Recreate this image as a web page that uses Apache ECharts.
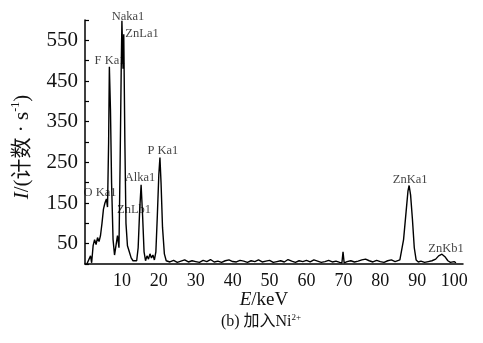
<!DOCTYPE html>
<html>
<head>
<meta charset="utf-8">
<script src="https://cdn.jsdelivr.net/npm/echarts@6/dist/echarts.min.js"></script>
<style>html,body{margin:0;padding:0;background:#fff;}#c{width:483px;height:343px;}</style>
</head>
<body>
<div id="c"></div>
<script>
// Spectrum: energy (keV) and intensity (counts/s)
var energy = [0.5,1.0,1.5,1.8,2.2,2.6,3.0,3.4,3.8,4.2,4.6,5.0,5.4,5.8,6.1,6.4,6.6,6.9,7.2,7.6,8.0,8.4,8.8,9.2,9.5,9.8,10.0,10.3,10.5,10.8,11.1,11.5,12.0,12.5,13.0,13.5,14.0,14.4,14.8,15.2,15.6,16.0,16.4,16.8,17.2,17.6,18.0,18.4,18.8,19.2,19.6,20.0,20.3,20.6,21.0,21.5,22,23,24,25,26,27,28,29,30,31,32,33,34,35,36,37,38,39,40,41,42,43,44,45,46,47,48,49,50,51,52,53,54,55,56,57,58,59,60,61,62,63,64,65,66,67,68,69,69.6,69.9,70.2,71,72,73,74,75,76,77,78,79,80,81,82,83,84,85.3,86.3,87.0,87.5,87.8,88.2,88.7,89.2,89.7,90.3,91,92,93,94,95,95.8,96.7,97.5,98.3,99,100,100.5];
var intensity = [0,2,20,3,45,60,48,65,55,70,100,135,150,160,140,300,485,380,200,60,22,20,70,40,240,470,598,480,565,300,100,45,30,15,8,10,8,40,130,195,120,30,8,20,12,25,15,22,10,30,120,220,262,200,90,25,8,5,9,4,7,10,5,8,6,4,9,6,11,5,7,4,8,10,6,5,9,7,4,8,6,10,5,7,9,4,6,8,5,11,7,4,8,6,9,5,10,7,4,6,9,5,7,4,3,30,3,6,8,5,7,10,12,8,5,9,6,4,8,10,6,10,60,130,180,193,170,110,40,10,5,7,4,6,8,12,20,24,18,8,4,6,3];

// Peak annotations
var peakNames = ['Naka1','ZnLa1','F Ka1','O Ka1','Alka1','ZnLb1','P Ka1','ZnKa1','ZnKb1'];
var peakLabelE = [11.65,15.45,6.78,4.07,14.9,13.3,21.1,88.1,97.8];
var peakLabelV = [609,567,500,176,213,134,278,208,38];

// Axis ticks
var xTickInterval = 10;
var yTickInterval = 50;

var spectrum = energy.map(function(e,i){return [e,intensity[i]];});
var labelsData = peakNames.map(function(n,i){return {name:n, value:[peakLabelE[i],peakLabelV[i]]};});

var serif = '"Liberation Serif","DejaVu Serif","Noto Sans CJK SC",serif';
var chart = echarts.init(document.getElementById('c'));
chart.setOption({
  animation:false,
  backgroundColor:'#fff',
  grid:{left:85,top:20,width:378,bottom:79},
  xAxis:{
    type:'value',min:0,max:102.4,interval:xTickInterval,
    axisLine:{lineStyle:{color:'#000',width:1.5}},
    axisTick:{show:false},
    splitLine:{show:false},
    axisLabel:{color:'#111',fontFamily:serif,fontSize:18,margin:8,showMinLabel:false,showMaxLabel:false}
  },
  yAxis:{
    type:'value',min:0,max:600,interval:yTickInterval,
    axisLine:{show:true,lineStyle:{color:'#000',width:1.5}},
    axisTick:{show:true,inside:true,length:4,lineStyle:{color:'#000',width:1.2}},
    splitLine:{show:false},
    axisLabel:{color:'#111',fontFamily:serif,fontSize:21,margin:7,
      formatter:function(v){return (v%100===50)?String(v):'';}}
  },
  series:[
    {type:'line',data:spectrum,symbol:'none',clip:false,
     lineStyle:{color:'#000',width:1.4}},
    {type:'scatter',data:labelsData,symbolSize:0,clip:false,silent:true,
     label:{show:true,position:'inside',formatter:'{b}',color:'#111',fontFamily:serif,fontSize:12.5}}
  ],
  graphic:[
    {type:'text',x:22,y:147,rotation:Math.PI/2,
     style:{text:'{i|I}/(计数 · s{sup|-1})',align:'center',verticalAlign:'middle',fill:'#111',
       font:'21px '+serif,
       rich:{i:{fontStyle:'italic',fontSize:21,fontFamily:serif,lineHeight:25},
             sup:{fontSize:12,fontFamily:serif,verticalAlign:'top',lineHeight:25,padding:[0,0,10,0]}}}},
    {type:'text',x:264,y:300,
     style:{text:'{e|E}/keV',align:'center',verticalAlign:'middle',fill:'#111',font:'19px '+serif,
       rich:{e:{fontStyle:'italic',fontSize:19,fontFamily:serif}}}},
    {type:'text',x:261,y:322,
     style:{text:'(b) 加入Ni{sup|2+}',align:'center',verticalAlign:'middle',fill:'#111',
       font:'16px '+serif,
       rich:{sup:{fontSize:9,fontFamily:serif,verticalAlign:'top',padding:[0,0,8,0]}}}}
  ]
});
</script>
</body>
</html>
